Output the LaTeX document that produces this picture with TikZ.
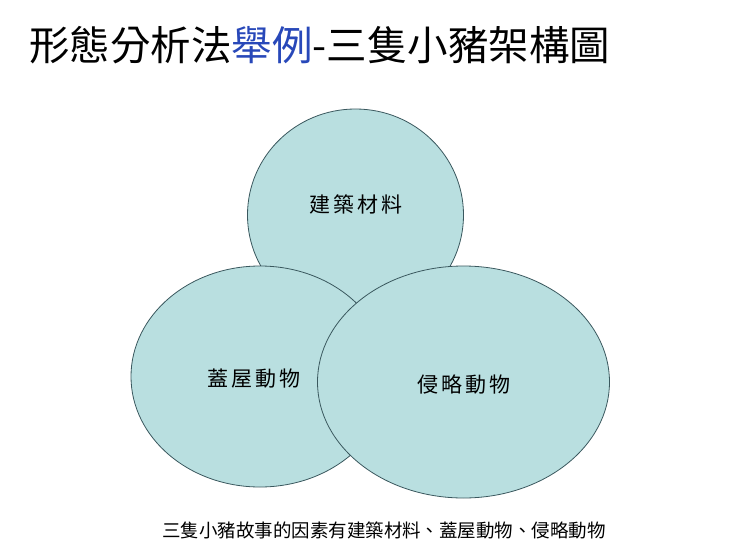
\documentclass[tikz,border=0pt]{standalone}
\usepackage{fontspec}
\usepackage{tikz}
\newfontfamily\cjk{Noto Sans CJK TC}
\newfontfamily\cjklab[LetterSpace=15]{Noto Sans CJK TC}
\definecolor{bubblefill}{RGB}{185,223,224}
\definecolor{bubbleline}{RGB}{58,88,94}
\definecolor{titleblue}{RGB}{40,72,185}
\tikzset{
  bubble/.style={draw=bubbleline,fill=bubblefill,line width=0.8pt},
  bubbletext/.style={font=\cjklab\fontsize{21}{25}\selectfont,inner sep=0pt}
}
\begin{document}
\begin{tikzpicture}[x=1pt,y=-1pt]
\useasboundingbox (0,0) rectangle (740,555);
\node[anchor=west,inner sep=0pt,font=\cjk\fontsize{40.5}{46}\selectfont] (title) at (29,45)
  {形態分析法\textcolor{titleblue}{舉例}-三隻小豬架構圖};
\draw[bubble](355.5,215)ellipse[x radius=108,y radius=106];
\draw[bubble](260,376.5)ellipse[x radius=129,y radius=110.5];
\draw[bubble](463.5,382)ellipse[x radius=146,y radius=116];
\node[bubbletext] (material) at (356,204) {建築材料};
\node[bubbletext] (builder) at (254,379) {蓋屋動物};
\node[bubbletext] (invader) at (464,385) {侵略動物};
\node[inner sep=0pt,font=\cjk\fontsize{18.5}{22}\selectfont] (caption) at (384,530)
  {三隻小豬故事的因素有建築材料、蓋屋動物、侵略動物};
\end{tikzpicture}
\end{document}
